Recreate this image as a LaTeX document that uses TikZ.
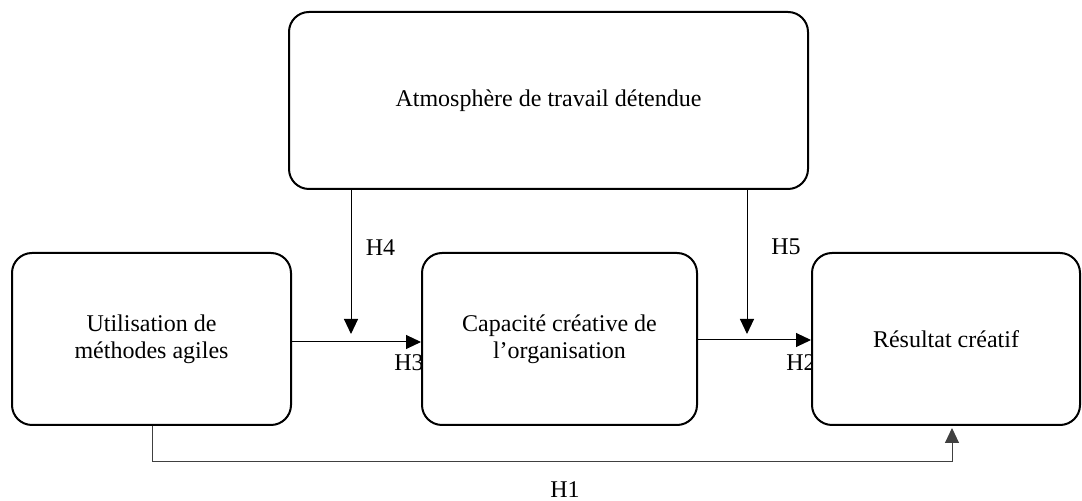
\documentclass[tikz,border=0pt]{standalone}
\usepackage{fontspec}
\setmainfont{Liberation Serif}
\usetikzlibrary{arrows.meta}
\begin{document}
\begin{tikzpicture}[x=0.5pt,y=-0.5pt,
  box/.style={draw, line width=1pt, rounded corners=10pt, fill=white, align=center,
    inner sep=0pt, font=\fontsize{12}{13.5}\selectfont},
  lbl/.style={inner sep=0pt, font=\fontsize{12}{13.5}\selectfont},
  arr/.style={line width=0.5pt, -{Triangle[length=7.5pt,width=7pt]}},
  conn/.style={line width=0.5pt, black!75, -{Triangle[length=7.5pt,width=7pt]}}]
\useasboundingbox (0,0) rectangle (1082,501);
% labels hidden partly behind boxes
\node[lbl] (h3) at (409,363) {H3};
\node[lbl] (h2) at (801,363) {H2};
% boxes
\node[box, minimum width=259.5pt, minimum height=88.5pt] (top) at (548.5,100.5) {Atmosphère de travail détendue};
\node[box, minimum width=139.5pt, minimum height=86pt] (left) at (151.5,339) {Utilisation de\\méthodes agiles};
\node[box, minimum width=137.5pt, minimum height=86pt] (mid) at (559.5,339) {Capacité créative de\\l’organisation};
\node[box, minimum width=134pt, minimum height=86pt] (right) at (946,339) {Résultat créatif};
% other labels
\node[lbl] (h4) at (380.5,248) {H4};
\node[lbl] (h5) at (786,247) {H5};
\node[lbl] (h1) at (565,490) {H1};
% coordinates
\coordinate (t4) at (351,334);
\coordinate (t5) at (747,334);
\coordinate (a1) at (291,342);
\coordinate (a2) at (697,340);
\coordinate (h1a) at (152,462);
\coordinate (h1b) at (952,462);
% connectors
\draw[arr] (t4 |- top.south) -- (t4);
\draw[arr] (t5 |- top.south) -- (t5);
\draw[arr] (a1) -- (a1 -| mid.west);
\draw[arr] (a2) -- (a2 -| right.west);
\draw[conn] (left.south -| h1a) -- (h1a) -- (h1b) -- ([yshift=-1pt]right.south -| h1b);
\end{tikzpicture}
\end{document}
